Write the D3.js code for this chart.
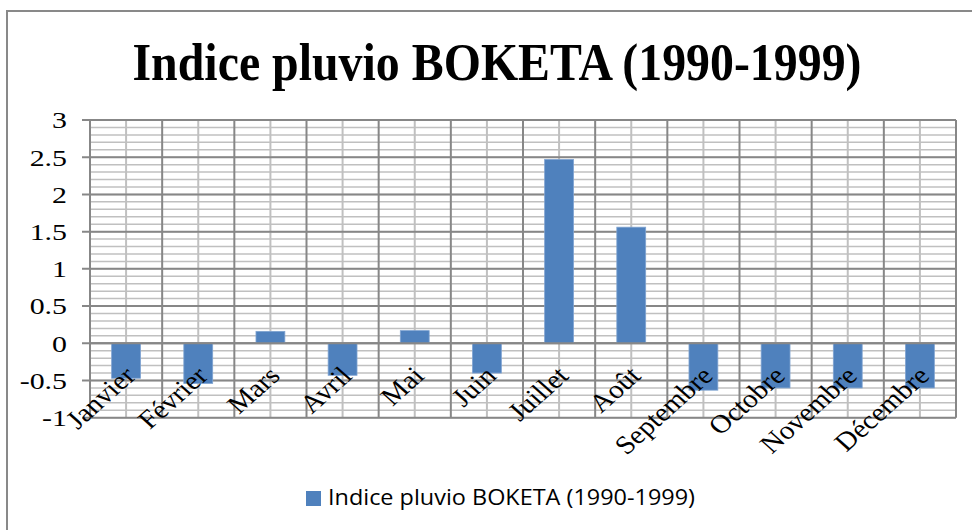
<!DOCTYPE html>
<html>
<head>
  <meta charset="UTF-8">
  <title>Indice pluvio BOKETA</title>
  <style>
    body { margin: 0; background: #fff; }
    svg { display: block; }
  </style>
</head>
<body>
<svg></svg>
<script src="https://d3js.org/d3.v7.min.js"></script>
<script>
    // data
    var months = ["Janvier", "Février", "Mars", "Avril", "Mai", "Juin", "Juillet", "Août", "Septembre", "Octobre", "Novembre", "Décembre"];
    var values = [-0.47, -0.54, 0.16, -0.43, 0.17, -0.40, 2.47, 1.56, -0.63, -0.60, -0.60, -0.60];
    var yTicks = [-1, -0.5, 0, 0.5, 1, 1.5, 2, 2.5, 3];
    var title = "Indice pluvio BOKETA (1990-1999)";
    var seriesName = "Indice pluvio BOKETA (1990-1999)";

    let width = 972, height = 530;
    let pLeft = 90, pRight = 956, pTop = 120, pBottom = 417.7;
    let serif = "'Liberation Serif', 'Times New Roman', serif";

    let svg = d3.select("svg").attr("width", width).attr("height", height);

    // outer chart border (only left + top visible)
    svg.append("rect")
        .attr("x", 7).attr("y", 11)
        .attr("width", width + 10).attr("height", height + 10)
        .attr("fill", "#fff")
        .attr("stroke", "#898989")
        .attr("stroke-width", 2);

    var x = d3.scaleBand()
        .domain(months)
        .range([pLeft, pRight])
        .paddingInner(0.6)
        .paddingOuter(0.3);

    var y = d3.scaleLinear()
        .domain([yTicks[0], yTicks[yTicks.length - 1]])
        .range([pBottom, pTop]);

    var grid = svg.append("g");

    // minor horizontal lines (every 0.1)
    grid.selectAll("line.minor")
        .data(d3.range(-10, 31).map(d => d / 10))
        .enter().append("line")
        .attr("x1", pLeft).attr("x2", pRight)
        .attr("y1", d => y(d)).attr("y2", d => y(d))
        .attr("stroke", "#c0c0c0")
        .attr("stroke-width", 1.5);

    // minor vertical lines (category centres)
    grid.selectAll("line.vmin")
        .data(months)
        .enter().append("line")
        .attr("x1", d => x(d) + x.bandwidth() / 2)
        .attr("x2", d => x(d) + x.bandwidth() / 2)
        .attr("y1", pTop).attr("y2", pBottom)
        .attr("stroke", "#c0c0c0")
        .attr("stroke-width", 2);

    // major horizontal lines
    grid.selectAll("line.major")
        .data(yTicks)
        .enter().append("line")
        .attr("x1", pLeft - 8).attr("x2", pRight)
        .attr("y1", d => y(d)).attr("y2", d => y(d))
        .attr("stroke", "#878787")
        .attr("stroke-width", 2);

    // major vertical lines (category boundaries)
    grid.selectAll("line.vmaj")
        .data(d3.range(months.length + 1))
        .enter().append("line")
        .attr("x1", i => pLeft + i * x.step())
        .attr("x2", i => pLeft + i * x.step())
        .attr("y1", pTop).attr("y2", pBottom)
        .attr("stroke", "#878787")
        .attr("stroke-width", 2);

    // bars
    svg.append("g")
        .selectAll("rect")
        .data(values)
        .enter().append("rect")
        .attr("x", (d, i) => x(months[i]))
        .attr("width", x.bandwidth())
        .attr("y", d => y(Math.max(0, d)))
        .attr("height", d => Math.abs(y(d) - y(0)))
        .attr("fill", "#4f81bd")
        .attr("stroke", "#7fa3d1")
        .attr("stroke-width", 0.8);

    // zero line on top
    svg.append("line")
        .attr("x1", pLeft).attr("x2", pRight)
        .attr("y1", y(0)).attr("y2", y(0))
        .attr("stroke", "#878787")
        .attr("stroke-width", 2);

    // y axis labels (glyphs are wide in the original, so stretch them)
    var stretch = 1.3;
    var yAxis = d3.axisLeft(y)
        .tickValues(yTicks)
        .tickSize(8)
        .tickPadding(15)
        .tickFormat(d => String(d));

    var ga = svg.append("g")
        .attr("transform", "translate(" + pLeft + ",0)")
        .call(yAxis);
    ga.select(".domain").remove();
    ga.selectAll(".tick line").remove();
    ga.selectAll("text")
        .attr("x", -23 / stretch)
        .attr("dy", "0.34em")
        .attr("transform", "scale(" + stretch + ",1)")
        .style("font-family", serif)
        .style("font-size", "23px")
        .attr("fill", "#000");

    // x labels, rotated
    svg.append("g")
        .selectAll("text")
        .data(months)
        .enter().append("text")
        .attr("transform", d => "translate(" + (x(d) + x.bandwidth() / 2 + 11) + "," + (y(0) + 34) + ") scale(1.12,1) rotate(-45)")
        .attr("text-anchor", "end")
        .style("font-family", serif)
        .style("font-size", "26px")
        .attr("fill", "#000")
        .text(d => d);

    // title
    svg.append("text")
        .attr("x", 497)
        .attr("y", 80)
        .attr("text-anchor", "middle")
        .attr("textLength", 729)
        .attr("lengthAdjust", "spacingAndGlyphs")
        .style("font-family", serif)
        .style("font-weight", "bold")
        .style("font-size", "52px")
        .text(title);

    // legend
    svg.append("rect")
        .attr("x", 306).attr("y", 491)
        .attr("width", 15).attr("height", 15)
        .attr("fill", "#4f81bd");

    svg.append("text")
        .attr("x", 328)
        .attr("y", 505)
        .attr("textLength", 367)
        .attr("lengthAdjust", "spacingAndGlyphs")
        .style("font-family", "'Open Sans', 'Liberation Sans', sans-serif")
        .style("font-size", "22px")
        .attr("fill", "#000")
        .text(seriesName);
</script>
</body>
</html>
